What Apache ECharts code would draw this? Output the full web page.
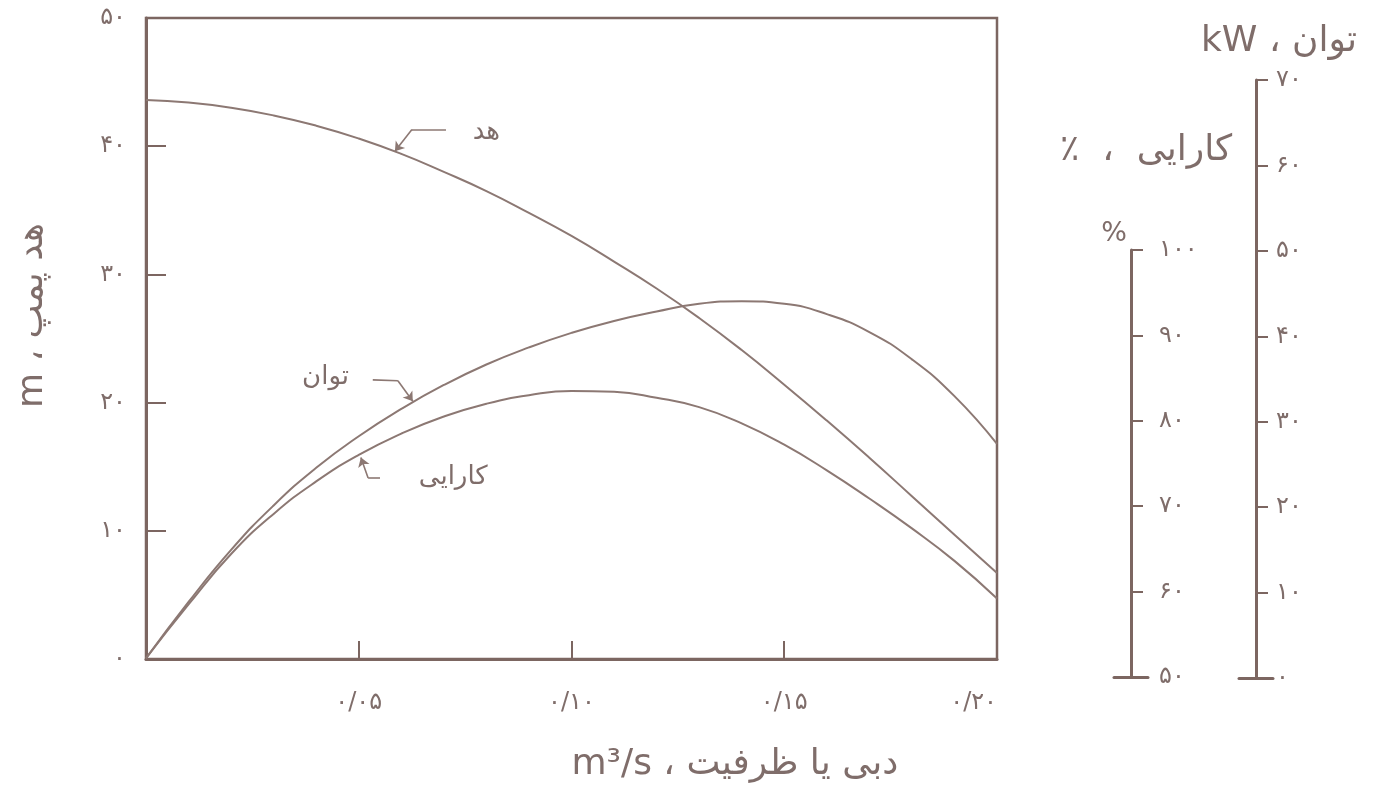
<!DOCTYPE html>
<html>
<head>
<meta charset="utf-8">
<script src="https://cdn.jsdelivr.net/npm/echarts@6/dist/echarts.min.js"></script>
<style>
html,body{margin:0;padding:0;background:#fff;}
#main{width:1377px;height:795px;}
</style>
</head>
<body>
<div id="main"></div>
<script>
// دبی (m3/s)
var flow = [0, 0.01, 0.02, 0.03, 0.04, 0.05, 0.06, 0.07, 0.08, 0.09, 0.10,
            0.11, 0.12, 0.13, 0.14, 0.15, 0.16, 0.17, 0.18, 0.19, 0.20];
// هد پمپ (m)
var head = [43.6, 43.4, 43.0, 42.4, 41.6, 40.6, 39.4, 38.0, 36.5, 34.8, 33.0,
            31.0, 28.9, 26.6, 24.1, 21.4, 18.6, 15.7, 12.7, 9.7, 6.7];
// توان (kW)
var power = [2.3, 8.9, 15.0, 20.2, 24.6, 28.3, 31.5, 34.3, 36.7, 38.7, 40.4,
             41.8, 42.9, 43.8, 44.1, 43.8, 42.6, 40.5, 37.3, 33.0, 27.4];
// کارایی (%)
var efficiency = [52.2, 58.5, 64.4, 69.1, 72.9, 76.0, 78.5, 80.5, 82.0, 83.0, 83.5,
                  83.4, 82.7, 81.6, 79.7, 77.2, 74.2, 70.9, 67.4, 63.6, 59.2];

var flowTicks = ['۰', '۰/۰۵', '۰/۱۰', '۰/۱۵', '۰/۲۰'];
var headTicks = ['۰', '۱۰', '۲۰', '۳۰', '۴۰', '۵۰'];
var effTicks = ['۵۰', '۶۰', '۷۰', '۸۰', '۹۰', '۱۰۰'];
var powerTicks = ['۰', '۱۰', '۲۰', '۳۰', '۴۰', '۵۰', '۶۰', '۷۰'];

var LINE = '#8c7873';
var AXIS = '#7c6661';
var TEXT = '#7f6d6a';
var FONT = 'DejaVu Sans';

// جای محورها روی صفحه
var plot = {left: 146, top: 18, right: 997, bottom: 659};
var effAx = {x: 1131, top: 250, bottom: 677};
var powAx = {x: 1256, top: 80, bottom: 678};

// محورهای پنهان برای رسم منحنی‌ها در کادر اصلی با همان مقیاس محورهای سمت راست
var effPx = (effAx.bottom - effAx.top) / 50;
var effMin = 50 + (effAx.bottom - plot.bottom) / effPx;
var effMax = 50 + (effAx.bottom - plot.top) / effPx;
var powPx = (powAx.bottom - powAx.top) / 70;
var powMin = (powAx.bottom - plot.bottom) / powPx;
var powMax = (powAx.bottom - plot.top) / powPx;

function pairs(ys) {
    return flow.map(function (q, i) { return [q, ys[i]]; });
}

function leader(a, b, c) {
    return {
        silent: true,
        symbol: ['none', 'none'],
        label: {show: false},
        lineStyle: {color: LINE, width: 1.6, type: 'solid'},
        data: [
            [{coord: a}, {coord: b}],
            [{coord: b}, {coord: c, symbol: 'arrow', symbolSize: 9}]
        ]
    };
}

function tag(name, at, size) {
    return {
        silent: true,
        symbolSize: 0,
        label: {show: true, position: 'inside', formatter: '{b}', color: TEXT, fontSize: size, fontFamily: FONT},
        data: [{name: name, coord: at}]
    };
}

var sideX = {
    type: 'value', min: -1, max: 1,
    axisLine: {onZero: false, lineStyle: {color: AXIS, width: 3}},
    axisTick: {show: false}, axisLabel: {show: false}, splitLine: {show: false}
};

var myChart = echarts.init(document.getElementById('main'));
var option = {
    animation: false,
    backgroundColor: '#fff',
    textStyle: {fontFamily: FONT},
    title: {
        text: '٪  ،  کارایی',
        left: 1060, top: 133, padding: 0,
        textStyle: {color: TEXT, fontSize: 36, fontWeight: 'normal', fontFamily: FONT}
    },
    grid: [
        {left: plot.left, top: plot.top, width: plot.right - plot.left, height: plot.bottom - plot.top,
         show: true, borderColor: AXIS, borderWidth: 2.5},
        {left: effAx.x - 17, top: effAx.top, width: 34, height: effAx.bottom - effAx.top},
        {left: powAx.x - 17, top: powAx.top, width: 34, height: powAx.bottom - powAx.top}
    ],
    xAxis: [
        {
            gridIndex: 0, type: 'value', min: 0, max: 0.2, interval: 0.05,
            axisLine: {onZero: false, lineStyle: {color: AXIS, width: 3}},
            axisTick: {inside: true, length: 18, lineStyle: {color: AXIS, width: 2}},
            axisLabel: {
                margin: 32, fontSize: 24, color: TEXT, showMinLabel: false, alignMaxLabel: 'right',
                formatter: function (v) { return flowTicks[Math.round(v / 0.05)]; }
            },
            splitLine: {show: false},
            name: 'm³/s ، دبی یا ظرفیت',
            nameLocation: 'middle', nameGap: 88,
            nameTextStyle: {color: TEXT, fontSize: 36, align: 'left'}
        },
        Object.assign({gridIndex: 1}, sideX),
        Object.assign({gridIndex: 2}, sideX)
    ],
    yAxis: [
        {
            gridIndex: 0, type: 'value', min: 0, max: 50, interval: 10,
            axisLine: {show: true, onZero: false, lineStyle: {color: AXIS, width: 3}},
            axisTick: {show: true, inside: true, length: 20, lineStyle: {color: AXIS, width: 2}},
            axisLabel: {
                margin: 20, fontSize: 24, color: TEXT,
                formatter: function (v) { return headTicks[Math.round(v / 10)]; }
            },
            splitLine: {show: false},
            name: 'm ، هد پمپ',
            nameLocation: 'middle', nameGap: 95,
            nameTextStyle: {color: TEXT, fontSize: 36, padding: [0, 0, 0, 46]}
        },
        {gridIndex: 0, type: 'value', min: effMin, max: effMax, show: false, splitLine: {show: false}},
        {gridIndex: 0, type: 'value', min: powMin, max: powMax, show: false, splitLine: {show: false}},
        {
            gridIndex: 1, type: 'value', position: 'right', min: 50, max: 100, interval: 10,
            axisLine: {show: true, onZero: true, lineStyle: {color: AXIS, width: 3}},
            axisTick: {show: true, length: 12, lineStyle: {color: AXIS, width: 2}},
            axisLabel: {
                margin: 11, fontSize: 24, color: TEXT,
                formatter: function (v) { return effTicks[Math.round((v - 50) / 10)]; }
            },
            splitLine: {show: false},
            name: '%', nameLocation: 'end', nameGap: 3,
            nameTextStyle: {color: TEXT, fontSize: 27, align: 'right', padding: [0, 4, 0, 0]}
        },
        {
            gridIndex: 2, type: 'value', position: 'right', min: 0, max: 70, interval: 10,
            axisLine: {show: true, onZero: true, lineStyle: {color: AXIS, width: 3}},
            axisTick: {show: true, length: 12, lineStyle: {color: AXIS, width: 2}},
            axisLabel: {
                margin: 3, fontSize: 24, color: TEXT,
                formatter: function (v) { return powerTicks[Math.round(v / 10)]; }
            },
            splitLine: {show: false},
            name: 'kW ، توان', nameLocation: 'end', nameGap: 20,
            nameTextStyle: {color: TEXT, fontSize: 36, align: 'center', padding: [0, 0, 0, 46]}
        }
    ],
    series: [
        {
            name: 'هد', type: 'line', xAxisIndex: 0, yAxisIndex: 0,
            data: pairs(head), smooth: 0.5, showSymbol: false, symbol: 'none',
            lineStyle: {color: LINE, width: 2},
            markLine: leader([0.0705, 41.3], [0.0625, 41.3], [0.0585, 39.6]),
            markPoint: tag('هد', [0.0800, 41.1], 26)
        },
        {
            name: 'توان', type: 'line', xAxisIndex: 0, yAxisIndex: 2,
            data: pairs(power), smooth: 0.5, showSymbol: false, symbol: 'none',
            lineStyle: {color: LINE, width: 2},
            markLine: leader([0.0533, 34.9], [0.0592, 34.8], [0.0627, 32.4]),
            markPoint: tag('توان', [0.0422, 35.2], 26)
        },
        {
            name: 'کارایی', type: 'line', xAxisIndex: 0, yAxisIndex: 1,
            data: pairs(efficiency), smooth: 0.5, showSymbol: false, symbol: 'none',
            lineStyle: {color: LINE, width: 2},
            markLine: leader([0.0550, 73.3], [0.0522, 73.3], [0.0505, 75.7]),
            markPoint: tag('کارایی', [0.0722, 73.4], 26)
        }
    ]
};
myChart.setOption(option);
</script>
</body>
</html>
